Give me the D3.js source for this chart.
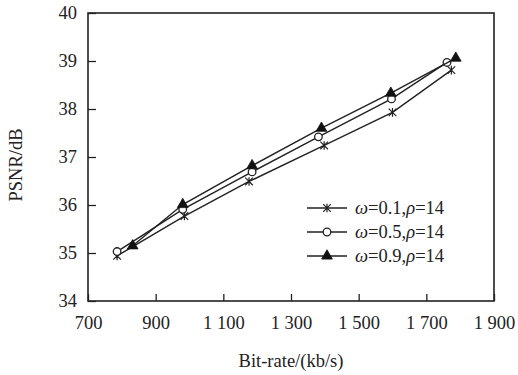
<!DOCTYPE html>
<html>
<head>
<meta charset="utf-8">
<script src="https://cdn.jsdelivr.net/npm/d3@7"></script>
<style>
  body { margin: 0; background: #fff; }
  text { font-family: "Liberation Serif", "Times New Roman", serif; fill: #222; }
</style>
</head>
<body>
<svg id="chart" width="518" height="375"></svg>
<script>
// data
const xTicks = [700, 900, 1100, 1300, 1500, 1700, 1900];
const yTicks = [34, 35, 36, 37, 38, 39, 40];

const rateW01 = [786, 985, 1176, 1398, 1600, 1774];
const psnrW01 = [34.94, 35.77, 36.49, 37.24, 37.93, 38.81];

const rateW05 = [786, 980, 1185, 1381, 1597, 1761];
const psnrW05 = [35.03, 35.91, 36.69, 37.42, 38.21, 38.97];

const rateW09 = [832, 980, 1185, 1390, 1595, 1787];
const psnrW09 = [35.15, 36.01, 36.82, 37.60, 38.33, 39.06];

const seriesNames = ["0.1", "0.5", "0.9"];
const markerTypes = ["star", "circle", "triangle"];

const svg = d3.select("#chart");
const margin = {top: 13, right: 24, bottom: 74, left: 88};
const width = 518 - margin.left - margin.right;
const height = 375 - margin.top - margin.bottom;

const g = svg.append("g").attr("transform", "translate(" + margin.left + "," + margin.top + ")");

const x = d3.scaleLinear().domain([700, 1900]).range([0, width]);
const y = d3.scaleLinear().domain([34, 40]).range([height, 0]);

const fmt = d => {
    const s = String(d);
    return s.length > 3 ? s.slice(0, s.length - 3) + " " + s.slice(-3) : s;
};

// axes, ticks pointing inward
const xAxis = g.append("g").attr("transform", "translate(0," + height + ")")
    .call(d3.axisBottom(x).tickValues(xTicks).tickSize(-7).tickPadding(15).tickFormat(fmt));
const yAxis = g.append("g")
    .call(d3.axisLeft(y).tickValues(yTicks).tickSize(-8).tickPadding(11).tickFormat(d3.format("d")));

[xAxis, yAxis].forEach(a => {
    a.select(".domain").remove();
    a.selectAll("line").attr("stroke", "#222").attr("stroke-width", 1.3);
    a.selectAll("text").style("font-size", "18.5px").style("font-family", "Liberation Serif").attr("fill", "#222");
});

// frame
g.append("rect").attr("width", width).attr("height", height)
    .attr("fill", "none").attr("stroke", "#222").attr("stroke-width", 1.6);

// axis titles
svg.append("text").attr("x", margin.left + width / 2).attr("y", 367)
    .attr("text-anchor", "middle").style("font-size", "18.5px").text("Bit-rate/(kb/s)");
svg.append("text").attr("transform", "translate(22,165) rotate(-90)")
    .attr("text-anchor", "middle").style("font-size", "18.5px").text("PSNR/dB");

const series = [
    {rates: rateW01, psnr: psnrW01},
    {rates: rateW05, psnr: psnrW05},
    {rates: rateW09, psnr: psnrW09}
];

const line = d3.line().x(d => x(d[0])).y(d => y(d[1]));

function drawMarker(sel, type) {
    if (type === "star") {
        const r = 3.8;
        sel.append("path")
            .attr("d", "M" + (-r) + "," + (-r) + "L" + r + "," + r + "M" + r + "," + (-r) + "L" + (-r) + "," + r + "M0," + (-r - 0.5) + "L0," + (r + 0.5))
            .attr("stroke", "#222").attr("stroke-width", 1.2).attr("fill", "none");
    } else if (type === "circle") {
        sel.append("circle").attr("r", 3.8).attr("fill", "#fff").attr("stroke", "#222").attr("stroke-width", 1.3);
    } else {
        sel.append("path").attr("d", d3.symbol().type(d3.symbolTriangle).size(50)())
            .attr("fill", "#111").attr("stroke", "#111").attr("stroke-width", 0.8);
    }
}

series.forEach((s, i) => {
    const pts = s.rates.map((r, j) => [r, s.psnr[j]]);
    g.append("path").datum(pts).attr("d", line)
        .attr("fill", "none").attr("stroke", "#222").attr("stroke-width", 1.4);
    pts.forEach(p => {
        const m = g.append("g").attr("transform", "translate(" + x(p[0]) + "," + y(p[1]) + ")");
        drawMarker(m, markerTypes[i]);
    });
});

// legend
const legend = svg.append("g").attr("transform", "translate(307,208)");
seriesNames.forEach((name, i) => {
    const row = legend.append("g").attr("transform", "translate(0," + (i * 24) + ")");
    row.append("line").attr("x1", 0).attr("x2", 40).attr("y1", 0).attr("y2", 0)
        .attr("stroke", "#222").attr("stroke-width", 1.4);
    const m = row.append("g").attr("transform", "translate(20,0)");
    drawMarker(m, markerTypes[i]);
    const t = row.append("text").attr("x", 48).attr("y", 6).style("font-size", "18.5px");
    t.append("tspan").style("font-style", "italic").text("ω");
    t.append("tspan").text("=" + name + ",");
    t.append("tspan").style("font-style", "italic").text("ρ");
    t.append("tspan").text("=14");
});
</script>
</body>
</html>
